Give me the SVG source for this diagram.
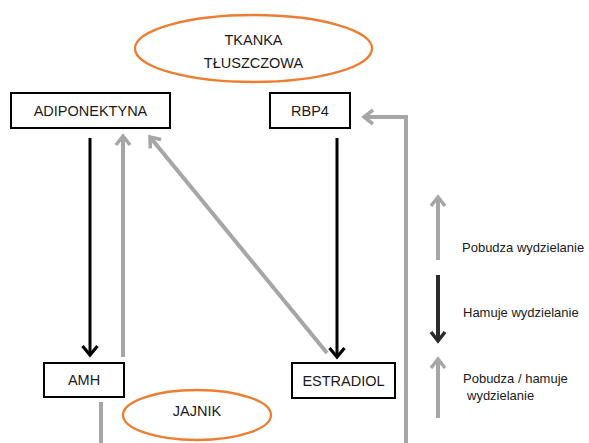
<svg xmlns="http://www.w3.org/2000/svg" width="589" height="443" viewBox="0 0 589 443">
<style>
.box{fill:#fff;stroke:#000;stroke-width:2}
.ell{fill:#fff;stroke:#ED7D31;stroke-width:2.3}
.lbl{font-family:"Liberation Sans",Arial,sans-serif;font-size:14.5px;fill:#1a1a1a;text-anchor:middle}
.leg{font-family:"Liberation Sans",Arial,sans-serif;font-size:13px;fill:#1a1a1a}
.blk{fill:none;stroke:#000;stroke-width:3}
.gry{fill:none;stroke:#A6A6A6;stroke-width:4}
.dk{fill:none;stroke:#2b2b2b;stroke-width:4}
</style>
<defs>
<marker id="mb" markerUnits="userSpaceOnUse" markerWidth="20" markerHeight="20" viewBox="-14 -10 20 20" refX="0" refY="0" orient="auto" overflow="visible"><path d="M-9,-7.5 L0,0 L-9,7.5" fill="none" stroke="#000" stroke-width="3.2"/></marker>
<marker id="mg" markerUnits="userSpaceOnUse" markerWidth="20" markerHeight="20" viewBox="-14 -10 20 20" refX="0" refY="0" orient="auto" overflow="visible"><path d="M-9,-7 L0,0 L-9,7" fill="none" stroke="#A6A6A6" stroke-width="3.5"/></marker>
<marker id="md" markerUnits="userSpaceOnUse" markerWidth="20" markerHeight="20" viewBox="-14 -10 20 20" refX="0" refY="0" orient="auto" overflow="visible"><path d="M-9,-7 L0,0 L-9,7" fill="none" stroke="#2b2b2b" stroke-width="3.5"/></marker>
</defs>
<g id="connectors">
<line class="blk" x1="90" y1="138" x2="90" y2="355" marker-end="url(#mb)"/>
<line class="gry" x1="123" y1="357" x2="123" y2="136" marker-end="url(#mg)"/>
<line class="gry" x1="327" y1="353" x2="150" y2="137" marker-end="url(#mg)"/>
<line class="blk" x1="337" y1="138" x2="337" y2="357" marker-end="url(#mb)"/>
<polyline class="gry" points="406,443 406,117 364,117" marker-end="url(#mg)"/>
<line class="gry" x1="101" y1="402" x2="101" y2="443"/>
</g>
<g id="tkanka">
<ellipse class="ell" cx="253.5" cy="48.5" rx="118.5" ry="33.5"/>
<text class="lbl" x="253.5" y="45">TKANKA</text>
<text class="lbl" x="253.5" y="68">TŁUSZCZOWA</text>
</g>
<g id="adiponektyna">
<rect class="box" x="11" y="93" width="159" height="35"/>
<text class="lbl" x="90.5" y="116">ADIPONEKTYNA</text>
</g>
<g id="rbp4">
<rect class="box" x="270" y="93" width="80" height="35"/>
<text class="lbl" x="310" y="116">RBP4</text>
</g>
<g id="amh">
<rect class="box" x="44" y="363" width="80" height="34"/>
<text class="lbl" x="84" y="385">AMH</text>
</g>
<g id="estradiol">
<rect class="box" x="292" y="363" width="103" height="35"/>
<text class="lbl" x="343.5" y="386">ESTRADIOL</text>
</g>
<g id="jajnik">
<ellipse class="ell" cx="197" cy="415" rx="74" ry="25"/>
<text class="lbl" x="197" y="416">JAJNIK</text>
</g>
<g id="legend">
<line class="gry" x1="438" y1="260" x2="438" y2="197" marker-end="url(#mg)"/>
<text class="leg" x="462" y="252">Pobudza wydzielanie</text>
<line class="dk" x1="438" y1="275" x2="438" y2="341" marker-end="url(#md)"/>
<text class="leg" x="463" y="317">Hamuje wydzielanie</text>
<line class="gry" x1="438" y1="418" x2="438" y2="359" marker-end="url(#mg)"/>
<text class="leg" x="463" y="383">Pobudza / hamuje</text>
<text class="leg" x="467" y="400">wydzielanie</text>
</g>
</svg>
